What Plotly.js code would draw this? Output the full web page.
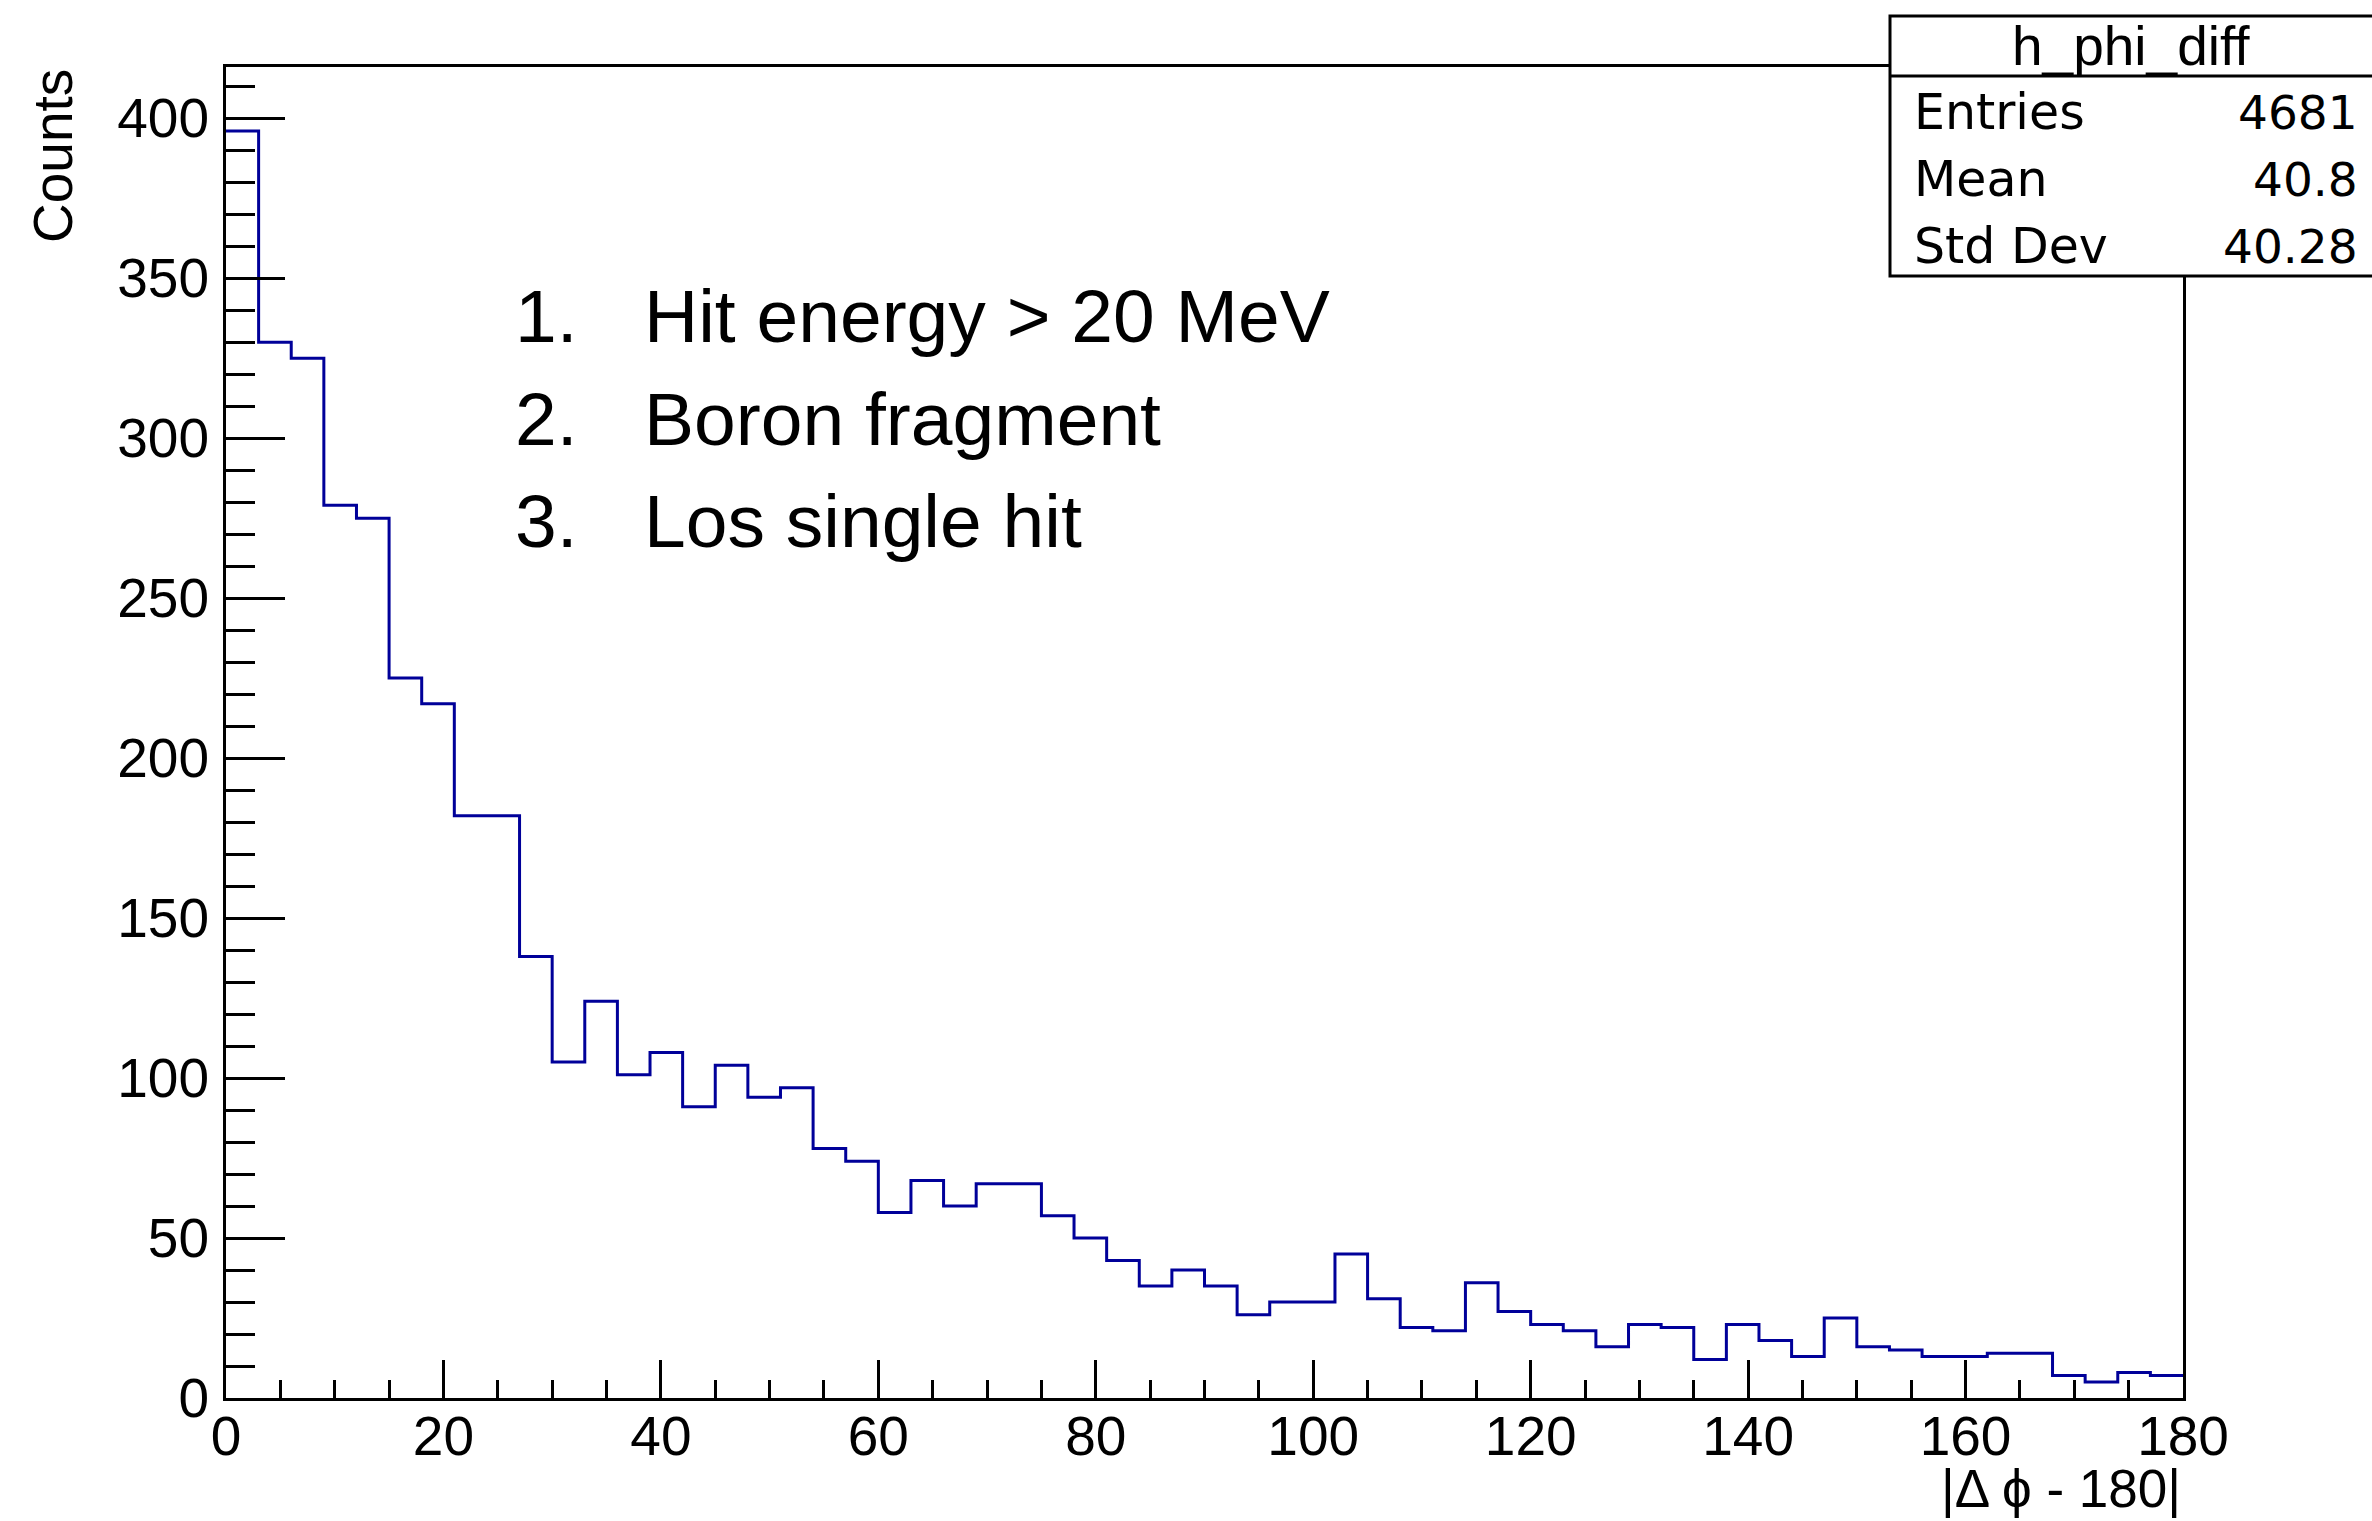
<!DOCTYPE html>
<html>
<head>
<meta charset="utf-8">
<script src="https://cdn.plot.ly/plotly-3.0.1.min.js"></script>
<style>html,body{margin:0;padding:0;background:#fff;}#chart{width:2372px;height:1521px;}</style>
</head>
<body>
<div id="chart"></div>
<script>
// ---- data (bin width 3) ----
const binLowEdges = [0,3,6,9,12,15,18,21,24,27,30,33,36,39,42,45,48,51,54,57,
  60,63,66,69,72,75,78,81,84,87,90,93,96,99,102,105,108,111,114,117,
  120,123,126,129,132,135,138,141,144,147,150,153,156,159,162,165,168,171,174,177];
const xMax = 180;
const counts = [396,330,325,279,275,225,217,182,182,138,105,124,101,108,91,104,94,97,78,74,
  58,68,60,67,67,57,50,43,35,40,35,26,30,30,45,31,22,21,36,27,
  23,21,16,23,22,12,23,18,13,25,16,15,13,13,14,14,7,5,8,7];
const statsTitle = "h_phi_diff";
const statsLabels = ["Entries", "Mean", "Std Dev"];
const statsValues = ["4681", "40.8", "40.28"];
const cutNumbers = ["1.", "2.", "3."];
const cutTexts = ["Hit energy > 20 MeV", "Boron fragment", "Los single hit"];
const xTitle = "|Δ ϕ - 180|";
const yTitle = "Counts";

// ---- geometry helpers (pixel -> paper) ----
const W = 2372, H = 1521;
const M = {l: 226, r: 189, t: 67, b: 123};
const PW = W - M.l - M.r, PH = H - M.t - M.b;
const px = x => (x - M.l) / PW;
const py = y => (H - M.b - y) / PH;

const FONT = "Liberation Sans, Arial, Helvetica, sans-serif";
const SFONT = "DejaVu Sans, Liberation Sans, sans-serif";

const stepX = binLowEdges.concat([xMax]);
const stepY = counts.concat([counts[counts.length - 1]]);

const trace = {
  type: "scatter", mode: "lines",
  x: stepX, y: stepY,
  line: {shape: "hv", color: "#000099", width: 3},
  hoverinfo: "skip", showlegend: false
};

const annotations = [];
annotations.push({xref: "paper", yref: "paper", x: px(53), y: py(156), text: yTitle,
  textangle: -90, showarrow: false, xanchor: "center", yanchor: "middle",
  font: {family: FONT, size: 55, color: "#000"}});
annotations.push({xref: "paper", yref: "paper", x: 1.0, y: py(1488), text: xTitle,
  showarrow: false, xanchor: "right", yanchor: "middle",
  font: {family: FONT, size: 53, color: "#000"}});

const cutY = [316, 419, 521];
cutNumbers.forEach((n, i) => {
  annotations.push({xref: "paper", yref: "paper", x: px(513), y: py(cutY[i]), text: n,
    showarrow: false, xanchor: "left", yanchor: "middle",
    font: {family: FONT, size: 75, color: "#000"}});
  annotations.push({xref: "paper", yref: "paper", x: px(642), y: py(cutY[i]), text: cutTexts[i],
    showarrow: false, xanchor: "left", yanchor: "middle",
    font: {family: FONT, size: 75, color: "#000"}});
});

annotations.push({xref: "paper", yref: "paper", x: px(2131), y: py(46), text: statsTitle,
  showarrow: false, xanchor: "center", yanchor: "middle",
  font: {family: FONT, size: 55, color: "#000"}});
const rowY = [113, 180, 246];
statsLabels.forEach((lab, i) => {
  annotations.push({xref: "paper", yref: "paper", x: px(1912), y: py(rowY[i]), text: lab,
    showarrow: false, xanchor: "left", yanchor: "middle",
    font: {family: SFONT, size: 49, color: "#000"}});
  annotations.push({xref: "paper", yref: "paper", x: px(2360), y: py(rowY[i]), text: statsValues[i],
    showarrow: false, xanchor: "right", yanchor: "middle",
    font: {family: SFONT, size: 47, color: "#000"}});
});

const shapes = [
  {type: "rect", xref: "paper", yref: "paper", x0: px(1890), x1: px(2380), y0: py(276), y1: py(16),
   line: {color: "#000", width: 3}, fillcolor: "#fff", layer: "above"},
  {type: "line", xref: "paper", yref: "paper", x0: px(1890), x1: px(2380), y0: py(76), y1: py(76),
   line: {color: "#000", width: 3}, layer: "above"}
];

const layout = {
  width: W, height: H,
  margin: {l: M.l, r: M.r, t: M.t, b: M.b, pad: 0},
  paper_bgcolor: "#fff", plot_bgcolor: "#fff",
  showlegend: false,
  xaxis: {
    range: [0, xMax], dtick: 20, tick0: 0,
    ticks: "inside", ticklen: 38, tickwidth: 2.5, tickcolor: "#000",
    minor: {ticks: "inside", ticklen: 18, tickwidth: 2.5, tickcolor: "#000", dtick: 5, showgrid: false},
    showline: true, linewidth: 3, linecolor: "#000", mirror: true,
    showgrid: false, zeroline: false,
    tickfont: {family: FONT, size: 55, color: "#000"},
    ticklabelstandoff: -12
  },
  yaxis: {
    range: [0, 416], dtick: 50, tick0: 0,
    ticks: "inside", ticklen: 59, tickwidth: 2.5, tickcolor: "#000",
    minor: {ticks: "inside", ticklen: 29, tickwidth: 2.5, tickcolor: "#000", dtick: 10, showgrid: false},
    showline: true, linewidth: 3, linecolor: "#000", mirror: true,
    showgrid: false, zeroline: false,
    tickfont: {family: FONT, size: 55, color: "#000"},
    ticklabelstandoff: 3
  },
  annotations: annotations,
  shapes: shapes
};

Plotly.newPlot("chart", [trace], layout, {displayModeBar: false, responsive: false});
</script>
</body>
</html>
